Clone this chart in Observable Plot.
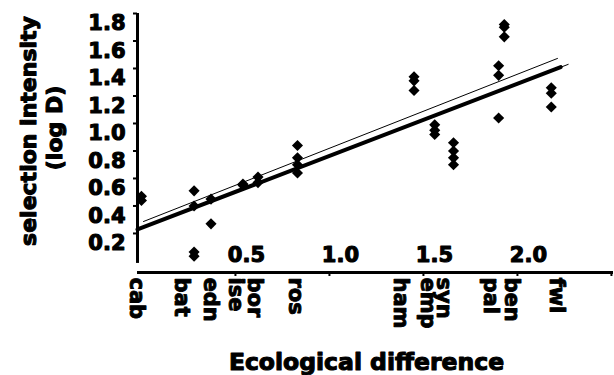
<!DOCTYPE html>
<html>
<head>
<meta charset="utf-8">
<script src="https://cdn.jsdelivr.net/npm/d3@7"></script>
<script src="https://cdn.jsdelivr.net/npm/@observablehq/plot@0.6"></script>
<style>
  html, body { margin: 0; padding: 0; background: #fff; }
</style>
</head>
<body>
<div id="chart"></div>
<script>
// Population-pair labels and their ecological-difference positions
const pairNames = ["cab", "bat", "edn", "ise", "bor", "ros", "ham", "emp", "syn", "pal", "ben", "fwl"];
const pairLabelX = [-0.025, 0.215, 0.367, 0.50, 0.60, 0.82, 1.38, 1.525, 1.61, 1.86, 1.97, 2.21];

// Observations: ecological difference (x) and selection intensity log D (y)
const pointX = [
  0.0, 0.0,
  0.28, 0.28, 0.28, 0.28,
  0.37, 0.37,
  0.54, 0.54,
  0.62, 0.62,
  0.83, 0.83, 0.83, 0.83,
  1.45, 1.45, 1.45,
  1.56, 1.56, 1.56,
  1.66, 1.66, 1.66, 1.66,
  1.90, 1.90, 1.90,
  1.93, 1.93, 1.93,
  2.18, 2.18, 2.18
];
const pointY = [
  0.47, 0.44,
  0.51, 0.40, 0.065, 0.035,
  0.45, 0.27,
  0.56, 0.55,
  0.61, 0.57,
  0.84, 0.75, 0.70, 0.64,
  1.34, 1.31, 1.24,
  0.99, 0.95, 0.92,
  0.86, 0.80, 0.75, 0.70,
  1.42, 1.35, 1.04,
  1.72, 1.70, 1.63,
  1.26, 1.22, 1.12
];

// Fitted lines (end points)
const thickLineX = [-0.021, 2.23];
const thickLineY = [0.229, 1.41];
const thinLineX = [-0.021, 2.27];
const thinLineY = [0.229, 1.43];
const upperLineX = [0.011, 2.213];
const upperLineY = [0.287, 1.473];

// Axes
const xDomain = [-0.021, 2.511];
const yDomain = [-0.084, 1.8];
const yAxisSpan = [-0.018, 1.8];
const yTicks = [0.2, 0.4, 0.6, 0.8, 1.0, 1.2, 1.4, 1.6, 1.8];
const xTicks = [0.5, 1.0, 1.5, 2.0, 2.5];
const xTickLabels = [0.5, 1.0, 1.5, 2.0];
const yTitle = ["selection intensity"];
const yTitle2 = ["(log D)"];
const xTitle = ["Ecological difference"];

const points = pointX.map((x, i) => ({x, y: pointY[i]}));
const pairs = pairNames.map((name, i) => ({name, x: pairLabelX[i]}));
const thick = thickLineX.map((x, i) => ({x, y: thickLineY[i]}));
const thin = thinLineX.map((x, i) => ({x, y: thinLineY[i]}));
const upper = upperLineX.map((x, i) => ({x, y: upperLineY[i]}));
const fmt = d3.format(".1f");
const heavy = {fill: "#000", stroke: "#000", strokeWidth: 1.1, fontWeight: "bold"};

const chart = Plot.plot({
  width: 614,
  height: 375,
  marginLeft: 137,
  marginRight: 1,
  marginTop: 13,
  marginBottom: 103,
  x: {domain: xDomain},
  y: {domain: yDomain},
  style: {fontFamily: "'DejaVu Sans', sans-serif", fontWeight: "bold", background: "#fff", color: "#000"},
  marks: [
    Plot.ruleX([xDomain[0]], {y1: yAxisSpan[0], y2: yAxisSpan[1], strokeWidth: 3, stroke: "#000"}),
    Plot.ruleY([yDomain[0]], {x1: xDomain[0], x2: xDomain[1], strokeWidth: 3, stroke: "#000"}),
    Plot.axisY(yTicks, {anchor: "left", tickSize: 4, strokeWidth: 2, tickFormat: () => "", label: null}),
    Plot.text(yTicks, {y: d => d, text: d => fmt(d), frameAnchor: "left", textAnchor: "end", lineAnchor: "middle", dx: -12, dy: 10, fontSize: 21, ...heavy}),
    Plot.axisX(xTicks, {anchor: "bottom", tickSize: 4, strokeWidth: 2, tickFormat: () => "", label: null}),
    Plot.text(xTickLabels, {x: d => d, text: d => fmt(d), frameAnchor: "bottom", lineAnchor: "middle", dy: -17, dx: 11, fontSize: 21, ...heavy}),
    Plot.text(pairs, {x: "x", text: "name", frameAnchor: "bottom", rotate: 90, textAnchor: "start", lineAnchor: "middle", dy: 5, fontSize: 21, ...heavy, strokeWidth: 0.9}),
    Plot.line(upper, {x: "x", y: "y", stroke: "#000", strokeWidth: 1}),
    Plot.line(thin, {x: "x", y: "y", stroke: "#000", strokeWidth: 1}),
    Plot.line(thick, {x: "x", y: "y", stroke: "#000", strokeWidth: 4}),
    Plot.dot(points, {x: "x", y: "y", symbol: "diamond2", r: 5, fill: "#000", stroke: "none"}),
    Plot.text(yTitle, {text: d => d, frameAnchor: "left", textAnchor: "middle", lineAnchor: "middle", rotate: -90, dx: -109, dy: -12, fontSize: 22, ...heavy}),
    Plot.text(yTitle2, {text: d => d, frameAnchor: "left", textAnchor: "middle", lineAnchor: "middle", rotate: -90, dx: -83, dy: -15, fontSize: 22, ...heavy}),
    Plot.text(xTitle, {text: d => d, frameAnchor: "bottom", textAnchor: "middle", lineAnchor: "middle", dx: -9, dy: 90, fontSize: 23.5, ...heavy})
  ]
});
document.getElementById("chart").appendChild(chart);
</script>
</body>
</html>
